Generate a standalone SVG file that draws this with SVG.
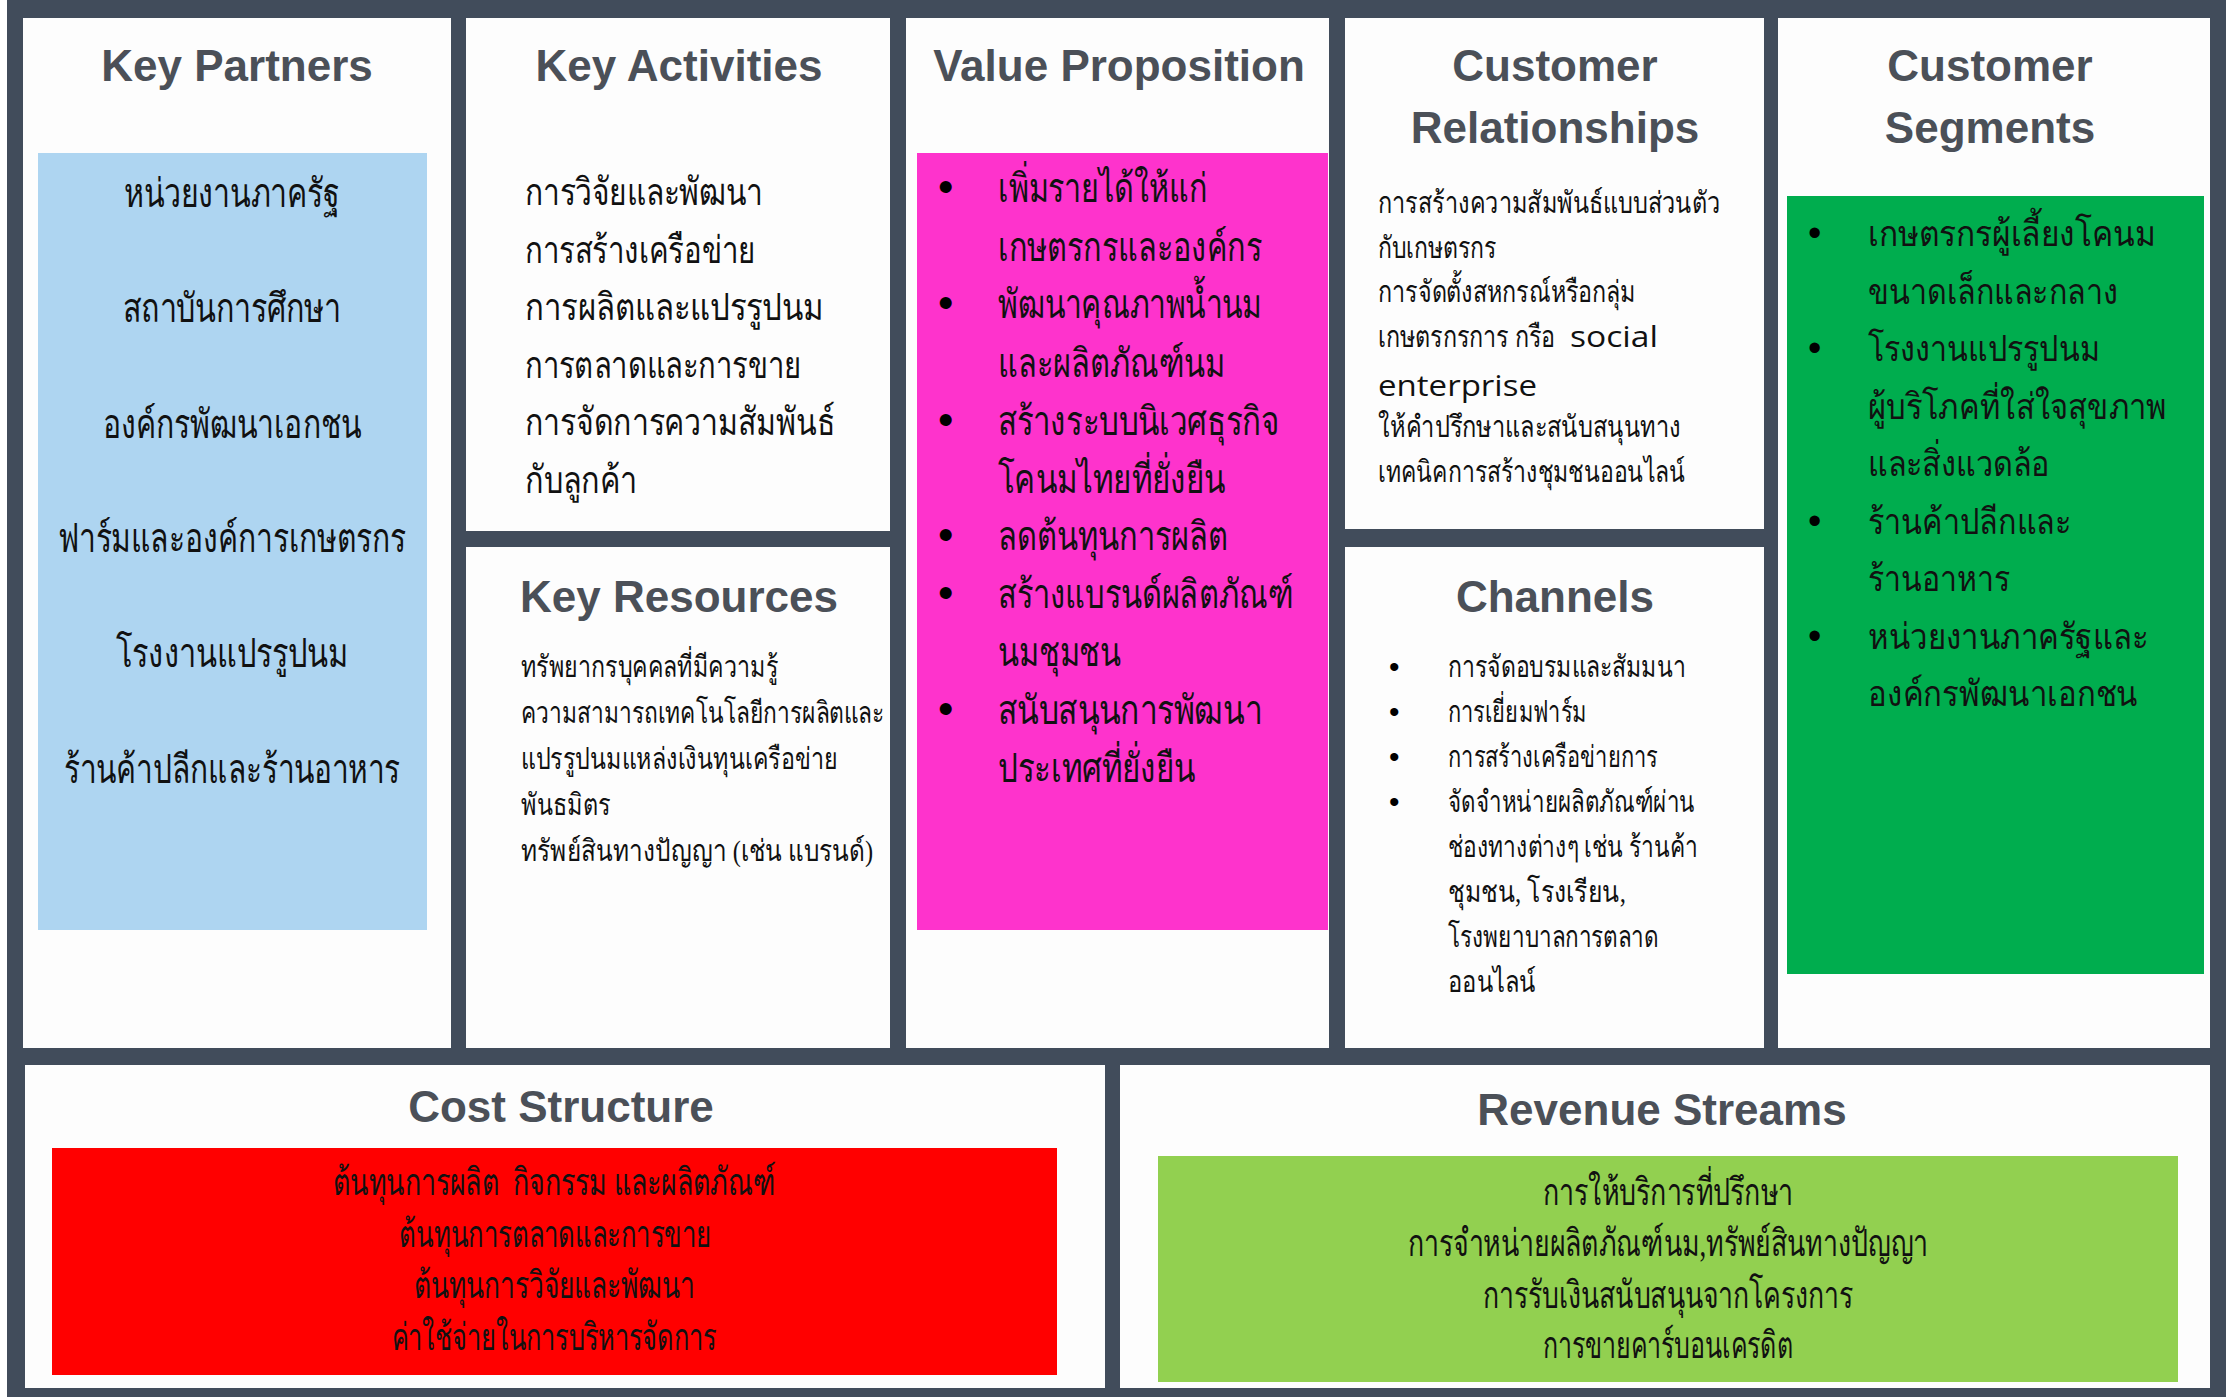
<svg xmlns="http://www.w3.org/2000/svg" width="2229" height="1397" viewBox="0 0 2229 1397">
  <style>
    .frame { fill: #414c5b; }
    .panel { fill: #fdfdfd; }
    .hd { font-family: "Liberation Sans", Arial, sans-serif; font-weight: 700; font-size: 44px; fill: #4b5058; text-anchor: middle; }
    .th { font-family: "Liberation Serif", serif; fill: #111111; }
    .ths { font-family: "Liberation Sans", sans-serif; fill: #111111; }
    .mid { text-anchor: middle; }
    .kp { font-size: 40px; }
    .ka { font-size: 38px; }
    .kr { font-size: 30px; }
    .vp { font-size: 40px; }
    .cr { font-size: 30px; }
    .ch { font-size: 30px; }
    .cs { font-size: 36px; }
    .cost { font-size: 38px; }
    .rev { font-size: 38px; }
    .en { font-family: "Open Sans", sans-serif; font-size: 30px; }
    .bul { font-family: "Liberation Sans", sans-serif; fill: #000000; }
    .vp .bul { font-size: 44px; }
    .ch .bul { font-size: 30px; }
    .cs .bul { font-size: 38px; }
  </style>

  <!-- dark frame behind all panels -->
  <rect class="frame" x="7" y="0" width="2219" height="1397"/>

  <g id="key-partners">
    <rect class="panel" x="23" y="18" width="428" height="1030"/>
    <text class="hd" x="237" y="81">Key Partners</text>
    <rect x="38" y="153" width="389" height="777" fill="#aed5f1"/>
    <g class="th kp mid">
      <text x="232" y="207" textLength="216" lengthAdjust="spacingAndGlyphs">หน่วยงานภาครัฐ</text>
      <text x="232" y="322" textLength="218" lengthAdjust="spacingAndGlyphs">สถาบันการศึกษา</text>
      <text x="232" y="438" textLength="259" lengthAdjust="spacingAndGlyphs">องค์กรพัฒนาเอกชน</text>
      <text x="232" y="552" textLength="348" lengthAdjust="spacingAndGlyphs">ฟาร์มและองค์การเกษตรกร</text>
      <text x="232" y="667" textLength="232" lengthAdjust="spacingAndGlyphs">โรงงานแปรรูปนม</text>
      <text x="232" y="783" textLength="336" lengthAdjust="spacingAndGlyphs">ร้านค้าปลีกและร้านอาหาร</text>
    </g>
  </g>

  <g id="key-activities">
    <rect class="panel" x="466" y="18" width="424" height="513"/>
    <text class="hd" x="679" y="81">Key Activities</text>
    <g class="th ka">
      <text x="525" y="205" textLength="238" lengthAdjust="spacingAndGlyphs">การวิจัยและพัฒนา</text>
      <text x="525" y="263" textLength="230" lengthAdjust="spacingAndGlyphs">การสร้างเครือข่าย</text>
      <text x="525" y="320" textLength="299" lengthAdjust="spacingAndGlyphs">การผลิตและแปรรูปนม</text>
      <text x="525" y="378" textLength="276" lengthAdjust="spacingAndGlyphs">การตลาดและการขาย</text>
      <text x="525" y="435" textLength="310" lengthAdjust="spacingAndGlyphs">การจัดการความสัมพันธ์</text>
      <text x="525" y="493" textLength="112" lengthAdjust="spacingAndGlyphs">กับลูกค้า</text>
    </g>
  </g>

  <g id="key-resources">
    <rect class="panel" x="466" y="547" width="424" height="501"/>
    <text class="hd" x="679" y="612">Key Resources</text>
    <g class="th kr">
      <text x="521" y="677" textLength="257" lengthAdjust="spacingAndGlyphs">ทรัพยากรบุคคลที่มีความรู้</text>
      <text x="521" y="723" textLength="363" lengthAdjust="spacingAndGlyphs">ความสามารถเทคโนโลยีการผลิตและ</text>
      <text x="521" y="769" textLength="317" lengthAdjust="spacingAndGlyphs">แปรรูปนมแหล่งเงินทุนเครือข่าย</text>
      <text x="521" y="815" textLength="89" lengthAdjust="spacingAndGlyphs">พันธมิตร</text>
      <text x="521" y="861" textLength="352" lengthAdjust="spacingAndGlyphs">ทรัพย์สินทางปัญญา (เช่น แบรนด์)</text>
    </g>
  </g>

  <g id="value-proposition">
    <rect class="panel" x="906" y="18" width="423" height="1030"/>
    <text class="hd" x="1119" y="81">Value Proposition</text>
    <rect x="917" y="153" width="411" height="777" fill="#fe33cc"/>
    <g class="th vp">
      <text x="938" y="202"><tspan class="bul">•</tspan><tspan x="998" textLength="209" lengthAdjust="spacingAndGlyphs">เพิ่มรายได้ให้แก่</tspan></text>
      <text x="998" y="261" textLength="264" lengthAdjust="spacingAndGlyphs">เกษตรกรและองค์กร</text>
      <text x="938" y="318"><tspan class="bul">•</tspan><tspan x="998" textLength="264" lengthAdjust="spacingAndGlyphs">พัฒนาคุณภาพน้ำนม</tspan></text>
      <text x="998" y="377" textLength="227" lengthAdjust="spacingAndGlyphs">และผลิตภัณฑ์นม</text>
      <text x="938" y="435"><tspan class="bul">•</tspan><tspan x="998" textLength="281" lengthAdjust="spacingAndGlyphs">สร้างระบบนิเวศธุรกิจ</tspan></text>
      <text x="998" y="493" textLength="227" lengthAdjust="spacingAndGlyphs">โคนมไทยที่ยั่งยืน</text>
      <text x="938" y="550"><tspan class="bul">•</tspan><tspan x="998" textLength="230" lengthAdjust="spacingAndGlyphs">ลดต้นทุนการผลิต</tspan></text>
      <text x="938" y="608"><tspan class="bul">•</tspan><tspan x="998" textLength="295" lengthAdjust="spacingAndGlyphs">สร้างแบรนด์ผลิตภัณฑ์</tspan></text>
      <text x="998" y="666" textLength="123" lengthAdjust="spacingAndGlyphs">นมชุมชน</text>
      <text x="938" y="724"><tspan class="bul">•</tspan><tspan x="998" textLength="264" lengthAdjust="spacingAndGlyphs">สนับสนุนการพัฒนา</tspan></text>
      <text x="998" y="782" textLength="197" lengthAdjust="spacingAndGlyphs">ประเทศที่ยั่งยืน</text>
    </g>
  </g>

  <g id="customer-relationships">
    <rect class="panel" x="1345" y="18" width="419" height="511"/>
    <text class="hd" x="1555" y="81">Customer</text>
    <text class="hd" x="1555" y="143">Relationships</text>
    <g class="th cr">
      <text x="1378" y="213" textLength="342" lengthAdjust="spacingAndGlyphs">การสร้างความสัมพันธ์แบบส่วนตัว</text>
      <text x="1378" y="258" textLength="118" lengthAdjust="spacingAndGlyphs">กับเกษตรกร</text>
      <text x="1378" y="302" textLength="258" lengthAdjust="spacingAndGlyphs">การจัดตั้งสหกรณ์หรือกลุ่ม</text>
      <text x="1378" y="347"><tspan textLength="177" lengthAdjust="spacingAndGlyphs">เกษตรกรการ กรือ</tspan><tspan class="en" x="1570" textLength="88" lengthAdjust="spacingAndGlyphs">social</tspan></text>
      <text class="en" x="1378" y="396" textLength="159" lengthAdjust="spacingAndGlyphs">enterprise</text>
      <text x="1378" y="437" textLength="303" lengthAdjust="spacingAndGlyphs">ให้คำปรึกษาและสนับสนุนทาง</text>
      <text x="1378" y="482" textLength="307" lengthAdjust="spacingAndGlyphs">เทคนิคการสร้างชุมชนออนไลน์</text>
    </g>
  </g>

  <g id="channels">
    <rect class="panel" x="1345" y="547" width="419" height="501"/>
    <text class="hd" x="1555" y="612">Channels</text>
    <g class="th ch">
      <text x="1389" y="677"><tspan class="bul">•</tspan><tspan x="1448" textLength="238" lengthAdjust="spacingAndGlyphs">การจัดอบรมและสัมมนา</tspan></text>
      <text x="1389" y="722"><tspan class="bul">•</tspan><tspan x="1448" textLength="139" lengthAdjust="spacingAndGlyphs">การเยี่ยมฟาร์ม</tspan></text>
      <text x="1389" y="767"><tspan class="bul">•</tspan><tspan x="1448" textLength="210" lengthAdjust="spacingAndGlyphs">การสร้างเครือข่ายการ</tspan></text>
      <text x="1389" y="812"><tspan class="bul">•</tspan><tspan x="1448" textLength="247" lengthAdjust="spacingAndGlyphs">จัดจำหน่ายผลิตภัณฑ์ผ่าน</tspan></text>
      <text x="1448" y="857" textLength="250" lengthAdjust="spacingAndGlyphs">ช่องทางต่างๆ เช่น ร้านค้า</text>
      <text x="1448" y="902" textLength="178" lengthAdjust="spacingAndGlyphs">ชุมชน, โรงเรียน,</text>
      <text x="1448" y="947" textLength="210" lengthAdjust="spacingAndGlyphs">โรงพยาบาลการตลาด</text>
      <text x="1448" y="992" textLength="88" lengthAdjust="spacingAndGlyphs">ออนไลน์</text>
    </g>
  </g>

  <g id="customer-segments">
    <rect class="panel" x="1778" y="18" width="432" height="1030"/>
    <text class="hd" x="1990" y="81">Customer</text>
    <text class="hd" x="1990" y="143">Segments</text>
    <rect x="1787" y="196" width="417" height="778" fill="#00ad4e"/>
    <g class="ths cs">
      <text x="1808" y="246"><tspan class="bul">•</tspan><tspan x="1868" textLength="288" lengthAdjust="spacingAndGlyphs">เกษตรกรผู้เลี้ยงโคนม</tspan></text>
      <text x="1868" y="304" textLength="250" lengthAdjust="spacingAndGlyphs">ขนาดเล็กและกลาง</text>
      <text x="1808" y="361"><tspan class="bul">•</tspan><tspan x="1868" textLength="232" lengthAdjust="spacingAndGlyphs">โรงงานแปรรูปนม</tspan></text>
      <text x="1868" y="419" textLength="299" lengthAdjust="spacingAndGlyphs">ผู้บริโภคที่ใส่ใจสุขภาพ</text>
      <text x="1868" y="476" textLength="182" lengthAdjust="spacingAndGlyphs">และสิ่งแวดล้อ</text>
      <text x="1808" y="534"><tspan class="bul">•</tspan><tspan x="1868" textLength="203" lengthAdjust="spacingAndGlyphs">ร้านค้าปลีกและ</tspan></text>
      <text x="1868" y="591" textLength="142" lengthAdjust="spacingAndGlyphs">ร้านอาหาร</text>
      <text x="1808" y="649"><tspan class="bul">•</tspan><tspan x="1868" textLength="280" lengthAdjust="spacingAndGlyphs">หน่วยงานภาครัฐและ</tspan></text>
      <text x="1868" y="706" textLength="270" lengthAdjust="spacingAndGlyphs">องค์กรพัฒนาเอกชน</text>
    </g>
  </g>

  <g id="cost-structure">
    <rect class="panel" x="25" y="1065" width="1080" height="323"/>
    <text class="hd" x="561" y="1122">Cost Structure</text>
    <rect x="52" y="1148" width="1005" height="227" fill="#ff0000"/>
    <g class="th cost mid">
      <text x="554" y="1195" textLength="443" lengthAdjust="spacingAndGlyphs">ต้นทุนการผลิต&#160; กิจกรรม และผลิตภัณฑ์</text>
      <text x="555" y="1247" textLength="312" lengthAdjust="spacingAndGlyphs">ต้นทุนการตลาดและการขาย</text>
      <text x="554" y="1298" textLength="281" lengthAdjust="spacingAndGlyphs">ต้นทุนการวิจัยและพัฒนา</text>
      <text x="554" y="1350" textLength="325" lengthAdjust="spacingAndGlyphs">ค่าใช้จ่ายในการบริหารจัดการ</text>
    </g>
  </g>

  <g id="revenue-streams">
    <rect class="panel" x="1120" y="1065" width="1090" height="323"/>
    <text class="hd" x="1662" y="1125">Revenue Streams</text>
    <rect x="1158" y="1156" width="1020" height="226" fill="#92d050"/>
    <g class="th rev mid">
      <text x="1668" y="1205" textLength="250" lengthAdjust="spacingAndGlyphs">การให้บริการที่ปรึกษา</text>
      <text x="1668" y="1256" textLength="520" lengthAdjust="spacingAndGlyphs">การจำหน่ายผลิตภัณฑ์นม,ทรัพย์สินทางปัญญา</text>
      <text x="1668" y="1308" textLength="370" lengthAdjust="spacingAndGlyphs">การรับเงินสนับสนุนจากโครงการ</text>
      <text x="1668" y="1358" textLength="250" lengthAdjust="spacingAndGlyphs">การขายคาร์บอนเครดิต</text>
    </g>
  </g>
</svg>
